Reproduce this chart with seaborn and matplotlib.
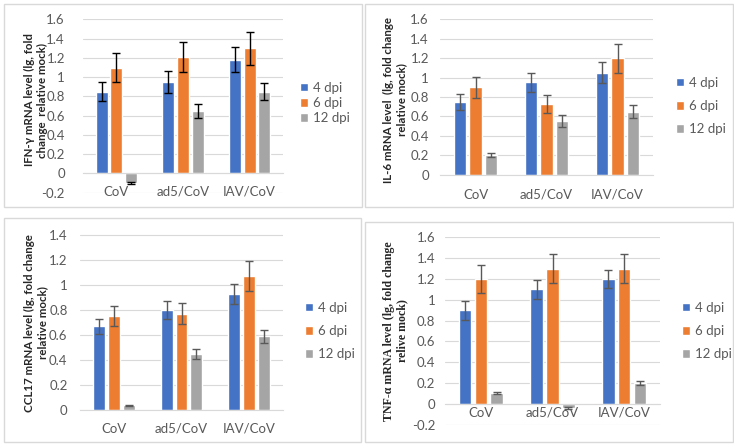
import numpy as np
import pandas as pd
import seaborn as sns
import matplotlib.pyplot as plt
from matplotlib.patches import Rectangle

groups = ["CoV", "ad5/CoV", "IAV/CoV"]
days = ["4 dpi", "6 dpi", "12 dpi"]
colors = ["#4472C4", "#ED7D31", "#A5A5A5"]

# rows = 4 dpi, 6 dpi, 12 dpi ; columns = groups
ifn_vals = [[0.85, 0.95, 1.18], [1.10, 1.21, 1.30], [-0.10, 0.65, 0.85]]
ifn_errs = [[0.10, 0.11, 0.13], [0.15, 0.16, 0.17], [0.01, 0.07, 0.09]]

il6_vals = [[0.75, 0.95, 1.05], [0.90, 0.73, 1.20], [0.20, 0.55, 0.65]]
il6_errs = [[0.08, 0.10, 0.11], [0.11, 0.09, 0.15], [0.02, 0.06, 0.07]]

ccl_vals = [[0.67, 0.80, 0.93], [0.75, 0.77, 1.07], [0.04, 0.45, 0.59]]
ccl_errs = [[0.06, 0.07, 0.08], [0.08, 0.085, 0.12], [0.005, 0.04, 0.05]]

tnf_vals = [[0.90, 1.10, 1.20], [1.20, 1.30, 1.30], [0.10, -0.04, 0.20]]
tnf_errs = [[0.09, 0.09, 0.09], [0.13, 0.14, 0.14], [0.01, 0.01, 0.02]]

sns.set_style("white")
plt.rcParams["font.family"] = ["Lato", "DejaVu Sans"]

W, H = 734, 445
fig = plt.figure(figsize=(W / 100, H / 100), dpi=100)


def px_axes(x0, y0, x1, y1):
    return fig.add_axes([x0 / W, 1 - y1 / H, (x1 - x0) / W, (y1 - y0) / H])


def frame(x0, y0, x1, y1):
    fig.add_artist(Rectangle((x0 / W, 1 - y1 / H), (x1 - x0) / W, (y1 - y0) / H,
                             transform=fig.transFigure, fill=False,
                             ec="#D9D9D9", lw=1))


def draw_panel(box, vals, errs, ymin, ymax, ylabel, ecol, ypad, xpad,
               label_xy, legend_xy, legend_space, label_font=None):
    ax = px_axes(*box)
    df = pd.DataFrame({
        "group": groups * 3,
        "day": [d for d in days for _ in groups],
        "value": [v for row in vals for v in row],
    })
    sns.barplot(data=df, x="group", y="value", hue="day", palette=colors,
                width=0.66, gap=0.2, errorbar=None, saturation=1, ax=ax)
    for cont, row_v, row_e in zip(ax.containers, vals, errs):
        xs = [b.get_x() + b.get_width() / 2 for b in cont]
        ax.errorbar(xs, row_v, yerr=row_e, fmt="none", ecolor=ecol,
                    elinewidth=1, capsize=3, capthick=1, zorder=5)
    ticks = np.round(np.arange(ymin, ymax + 0.01, 0.2), 1)
    ax.set_ylim(ymin - 0.004, ymax + 0.004)
    ax.set_xlim(-0.5, 2.5)
    ax.set_yticks(ticks)
    ax.set_yticklabels([f"{t:g}" for t in ticks])
    ax.yaxis.grid(True, color="#D9D9D9", lw=0.8)
    ax.set_axisbelow(True)
    for s in ["top", "right", "left"]:
        ax.spines[s].set_visible(False)
    ax.spines["bottom"].set_position(("data", 0))
    ax.spines["bottom"].set_color("#D9D9D9")
    ax.tick_params(axis="y", length=0, pad=ypad, labelsize=9.5, labelcolor="#595959")
    ax.tick_params(axis="x", length=0, pad=xpad, labelsize=9.5, labelcolor="#595959")
    ax.set_xlabel("")
    ax.set_ylabel("")
    kw = {"fontsize": 8.3, "fontweight": "bold"}
    if label_font:
        kw["family"] = label_font
        kw["fontsize"] = 8.6
    fig.text(label_xy[0] / W, 1 - label_xy[1] / H, ylabel, rotation=90,
             ha="center", va="center", multialignment="center",
             linespacing=1.15, **kw)
    handles, labels = ax.get_legend_handles_labels()
    leg = ax.legend(handles, labels, loc="center left",
                    bbox_to_anchor=(legend_xy[0] / W, 1 - legend_xy[1] / H),
                    bbox_transform=fig.transFigure, frameon=False,
                    fontsize=9.5, handlelength=0.6, handleheight=0.6,
                    handletextpad=0.4, labelspacing=legend_space,
                    borderpad=0, borderaxespad=0)
    for t in leg.get_texts():
        t.set_color("#595959")
    return ax


frame(4, 4, 362, 207)
frame(365, 4, 733, 207)
frame(4, 218, 361, 442)
frame(365, 222, 733, 442)

draw_panel((83, 19, 283, 193), ifn_vals, ifn_errs, -0.2, 1.6,
           "IFN-γ mRNA level (lg, fold\nchange  relative mock)", "black",
           13, 9, (36, 100), (300, 103), 0.25)
draw_panel((440, 19, 653, 175), il6_vals, il6_errs, 0.0, 1.6,
           "IL-6 mRNA level  (lg, fold change\nrelative mock)", "#595959",
           8, 10, (395, 100), (676, 106), 0.85)
draw_panel((80, 234, 283, 411), ccl_vals, ccl_errs, 0.0, 1.4,
           "CCL17 mRNA level (lg, fold change\nrelative mock)", "#595959",
           9, 9, (36, 323), (305, 331), 0.85)
draw_panel((445, 237, 660, 425), tnf_vals, tnf_errs, -0.2, 1.6,
           "TNF-α mRNA level (lg, fold change\nrelive mock)", "#595959",
           7, 2, (396, 331), (682, 331), 0.85, label_font="Liberation Serif")

fig.savefig("out.png", dpi=100)
